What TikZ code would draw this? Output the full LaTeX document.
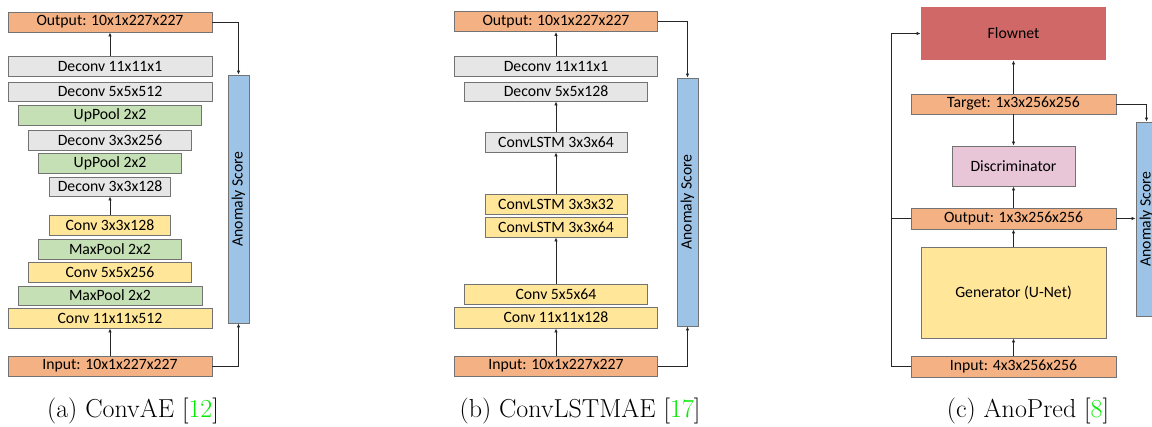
\documentclass[tikz,border=0pt]{standalone}
\usepackage{fontspec}
\usepackage{graphicx}
\usepackage{xcolor}
\newfontfamily\calib{Carlito}
\usetikzlibrary{arrows.meta}

\definecolor{ioOrange}{RGB}{244,177,131}
\definecolor{decGrey}{RGB}{231,230,230}
\definecolor{poolGreen}{RGB}{197,224,180}
\definecolor{convYellow}{RGB}{255,230,153}
\definecolor{scoreBlue}{RGB}{157,195,230}
\definecolor{discPink}{RGB}{232,198,216}
\definecolor{flowRed}{RGB}{208,104,104}
\definecolor{citeGreen}{RGB}{0,235,0}

\tikzset{
    blk/.style={draw=black!55, line width=0.65pt, inner sep=0pt,
        font=\calib\fontsize{11.8}{13}\selectfont},
    sz/.style 2 args={minimum width=#1*0.75pt, minimum height=#2*0.75pt},
    io/.style={blk, fill=ioOrange},
    dec/.style={blk, fill=decGrey},
    pool/.style={blk, fill=poolGreen},
    conv/.style={blk, fill=convYellow},
    score/.style={blk, fill=scoreBlue},
    arr/.style={-{Latex[length=3pt,width=2.6pt]}, line width=0.6pt, draw=black!85},
    subcap/.style={anchor=base, font=\fontsize{19.5}{22}\selectfont}
}

\begin{document}
\begin{tikzpicture}[x=0.75pt, y=-0.75pt]
    \useasboundingbox (0,0) rectangle (1152,426);
    \clip (0,0) rectangle (1152,426);

    % (a) convolutional autoencoder
    \node[io, sz={204}{20}] (outA) at (110,22) {Output: 10x1x227x227};
    \node[dec, sz={204}{20}] (dcA1) at (110,66) {Deconv 11x11x1};
    \node[dec, sz={204}{19}] (dcA2) at (110,91.5) {Deconv 5x5x512};
    \node[pool, sz={183}{20}] (upA1) at (110,115) {UpPool 2x2};
    \node[dec, sz={163}{20}] (dcA3) at (110,140) {Deconv 3x3x256};
    \node[pool, sz={143}{20}] (upA2) at (110,163) {UpPool 2x2};
    \node[dec, sz={121}{19}] (dcA4) at (110,186.5) {Deconv 3x3x128};
    \node[conv, sz={121}{20}] (cvA1) at (110,225) {Conv 3x3x128};
    \node[pool, sz={143}{20}] (mpA1) at (110,249) {MaxPool 2x2};
    \node[conv, sz={163}{20}] (cvA2) at (110,272) {Conv 5x5x256};
    \node[pool, sz={184}{19}] (mpA2) at (110,295.5) {MaxPool 2x2};
    \node[conv, sz={204}{20}] (cvA3) at (110,318) {Conv 11x11x512};
    \node[io, sz={204}{20}] (inA) at (110,366) {Input: 10x1x227x227};
    \node[score, sz={21}{248}] (scA) at (238.5,199) {\rotatebox{90}{Anomaly Score}};
    \draw[arr] (dcA1) -- (outA);
    \draw[arr] (cvA1) -- (dcA4);
    \draw[arr] (inA) -- (cvA3);
    \draw[arr] (outA.east) -| (scA.north);
    \draw[arr] (inA.east) -| (scA.south);
    \node[subcap] (capA) at (133,417) {(a) ConvAE [\textcolor{citeGreen}{12}]};

    % (b) ConvLSTM autoencoder
    \node[io, sz={203}{20}] (outB) at (556,21.5) {Output: 10x1x227x227};
    \node[dec, sz={203}{20}] (dcB1) at (556,66) {Deconv 11x11x1};
    \node[dec, sz={183}{19}] (dcB2) at (556,91.5) {Deconv 5x5x128};
    \node[dec, sz={142}{20}] (lsB3) at (556,142) {ConvLSTM 3x3x64};
    \node[conv, sz={142}{20}] (lsB2) at (556,204) {ConvLSTM 3x3x32};
    \node[conv, sz={142}{20}] (lsB1) at (556,227) {ConvLSTM 3x3x64};
    \node[conv, sz={183}{20}] (cvB2) at (556,294) {Conv 5x5x64};
    \node[conv, sz={203}{21}] (cvB1) at (556,317.5) {Conv 11x11x128};
    \node[io, sz={203}{20}] (inB) at (556,366) {Input: 10x1x227x227};
    \node[score, sz={21}{248}] (scB) at (687.5,202) {\rotatebox{90}{Anomaly Score}};
    \draw[arr] (dcB1) -- (outB);
    \draw[arr] (lsB3) -- (dcB2);
    \draw[arr] (lsB2) -- (lsB3);
    \draw[arr] (cvB2) -- (lsB1);
    \draw[arr] (inB) -- (cvB1);
    \draw[arr] (outB.east) -| (scB.north);
    \draw[arr] (inB.east) -| (scB.south);
    \node[subcap] (capB) at (580,417) {(b) ConvLSTMAE [\textcolor{citeGreen}{17}]};

    % (c) future frame prediction
    \node[blk, draw=none, fill=flowRed, sz={185}{53}] (flow) at (1013.5,33.5) {Flownet};
    \node[io, sz={205}{20}] (tgt) at (1013.5,104) {Target: 1x3x256x256};
    \node[blk, fill=discPink, sz={123}{40}] (disc) at (1013.5,166) {Discriminator};
    \node[io, sz={205}{21}] (outC) at (1013.5,218.5) {Output: 1x3x256x256};
    \node[conv, sz={185}{91}] (gen) at (1013.5,292.5) {Generator (U-Net)};
    \node[io, sz={205}{21}] (inC) at (1013.5,366.5) {Input: 4x3x256x256};
    \node[score, sz={21}{194}] (scC) at (1146.5,219) {\rotatebox{90}{Anomaly Score}};
    \coordinate (loop) at (891,33.5);
    \draw[arr] (tgt) -- (flow);
    \draw[arr] (tgt) -- (disc);
    \draw[arr] (outC) -- (disc);
    \draw[arr] (gen) -- (outC);
    \draw[arr] (inC) -- (gen);
    \draw[arr] (tgt.east) -| (scC.north);
    \draw[arr] (outC.east) -- (outC.east -| scC.west);
    \draw[arr] (inC.west) -| (loop) -- (flow.west);
    \draw[line width=0.6pt, draw=black!85] (outC.west) -- (outC.west -| loop);
    \node[subcap] (capC) at (1028,417) {(c) AnoPred [\textcolor{citeGreen}{8}]};
\end{tikzpicture}
\end{document}
